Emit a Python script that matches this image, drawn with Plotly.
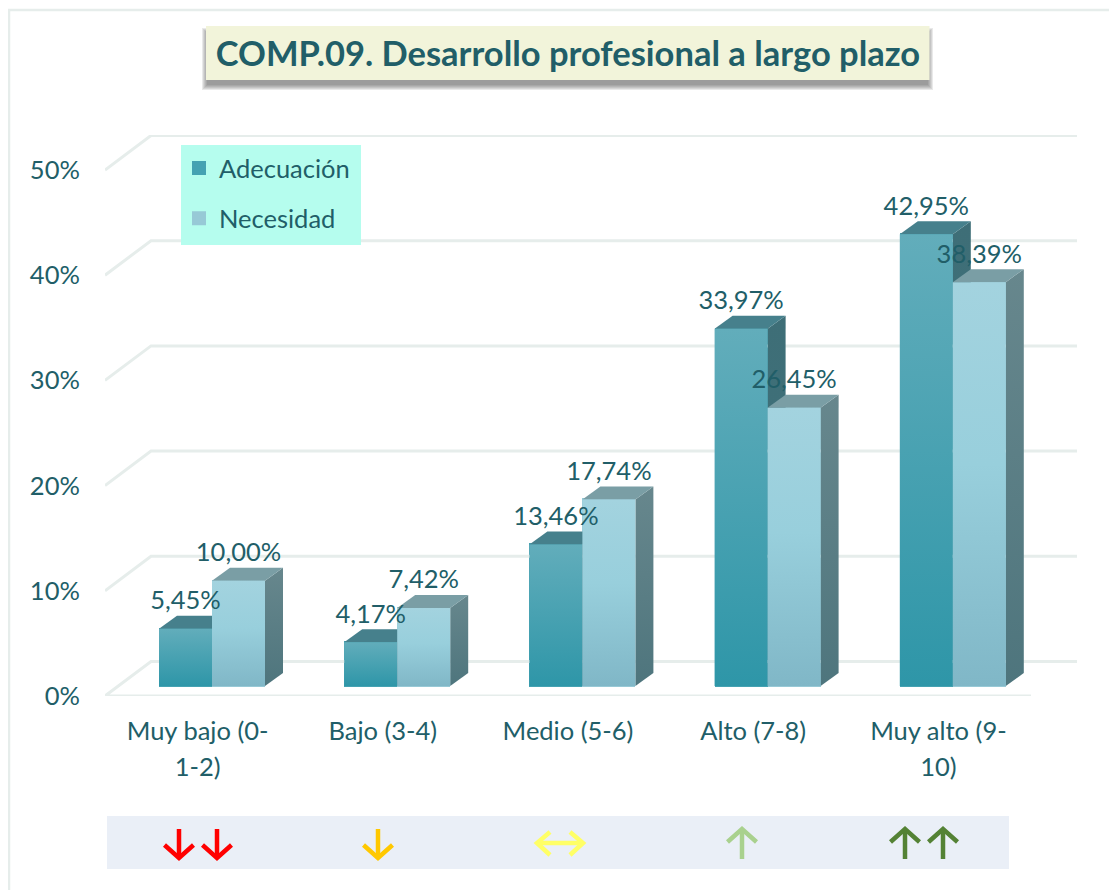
import plotly.graph_objects as go

categories = ["Muy bajo (0-<br>1-2)", "Bajo (3-4)", "Medio (5-6)", "Alto (7-8)", "Muy alto (9-<br>10)"]
adecuacion = [5.45, 4.17, 13.46, 33.97, 42.95]
necesidad = [10.00, 7.42, 17.74, 26.45, 38.39]
y_ticks = [0, 10, 20, 30, 40, 50]
title_text = "COMP.09. Desarrollo profesional a largo plazo"

TEXT = "#215e68"
GRID = "#e6edeb"
FONT = "Lato"
FS = 25.5

# the page adds an 8 px body margin, so page coordinates are reduced by OFF
OFF = 8
W, H = 1117 - OFF, 890 - OFF
L, R, T, B = 105, 1077, 135, 696   # page pixels of the plot area
PX_X = 185.2   # px per category
PX_Y = 10.52   # px per percent
xmin = -0.5
xmax = xmin + (R - L) / PX_X
ymax = (B - T) / PX_Y
DX, DY = 18 / PX_X, 13 / PX_Y
BW = 53 / PX_X
SHIFT = 14.4 / PX_X
BASE = 10 / PX_Y
GDX, GDY = 46 / PX_X, 34.5 / PX_Y
FRONT_END = 4.5


def px(x):
    return (x - L) / (R - L)


def py(y):
    return (B - y) / (B - T)


fig = go.Figure()

series = [
    ("Adecuación", adecuacion, -1, "#45a2b2",
     [[0, "#2e96a8"], [1, "#62adbb"]], "#46808c",
     [[0, "#3f737c"], [1, "#3e6e77"]]),
    ("Necesidad", necesidad, 0, "#97c9d6",
     [[0, "#80b7c7"], [0.55, "#98cfdc"], [1, "#a3d3df"]], "#7a9ea5",
     [[0, "#4e757d"], [1, "#67878d"]]),
]
xs = list(range(len(categories)))
for name, vals, side, mid, *_ in series:
    fig.add_trace(go.Bar(
        x=[i + SHIFT + side * BW + BW / 2 for i in xs], y=vals, base=BASE, width=BW - 2 / PX_X,
        name=name, legendgroup=name, marker=dict(color=mid, line=dict(color=mid, width=2)),
        hoverinfo="skip"))

gx, gy = [], []
for t in y_ticks:
    if t == 0:
        gx += [FRONT_END]
        gy += [t]
    gx += [xmin, xmin + GDX, xmax, None]
    gy += [t, t + GDY, t + GDY, None]
fig.add_trace(go.Scatter(x=gx, y=gy, mode="lines", line=dict(color=GRID, width=3),
                         showlegend=False, hoverinfo="skip"))


def poly(xv, yv, color=None, grad=None):
    kw = dict(fillcolor=color) if color else dict(fillgradient=dict(type="vertical", colorscale=grad))
    fig.add_trace(go.Scatter(x=xv, y=yv, mode="lines", line=dict(width=0), fill="toself",
                             showlegend=False, hoverinfo="skip", **kw))


for i in xs:
    for name, vals, side, mid, front, topc, sidec in series:
        x0 = i + SHIFT + side * BW
        x1 = x0 + BW
        top = BASE + vals[i]
        poly([x1, x1 + DX, x1 + DX, x1, x1], [BASE, BASE + DY, top + DY, top, BASE], grad=sidec)
        poly([x0, x0 + DX, x1 + DX, x1, x0], [top, top + DY, top + DY, top, top], color=topc)
        poly([x0, x1, x1, x0, x0], [BASE, BASE, top, top, BASE], grad=front)

for name, vals, side, *_ in series:
    fig.add_trace(go.Scatter(
        x=[i + SHIFT + side * BW + BW / 2 for i in xs],
        y=[v + BASE + 26 / PX_Y for v in vals],
        text=[f"{v:.2f}".replace(".", ",") + "%" for v in vals],
        mode="text", textposition="middle center", textfont=dict(family=FONT, size=FS, color=TEXT),
        showlegend=False, hoverinfo="skip", cliponaxis=False))

shapes = []


def rect(x0, y0, x1, y1, fill, layer="below"):
    shapes.append(dict(type="rect", xref="paper", yref="paper", x0=px(x0), x1=px(x1), y0=py(y0), y1=py(y1),
                       fillcolor=fill, line=dict(width=0), layer=layer))


def path(points, color, width=4.5):
    d = "M" + "L".join(f"{px(a):.5f},{py(b):.5f}" for a, b in points)
    shapes.append(dict(type="path", xref="paper", yref="paper", path=d, line=dict(color=color, width=width),
                       fillcolor="rgba(0,0,0,0)", layer="above"))


path([(9, 890), (9, 10), (1117, 10)], GRID, 2.5)
for k in range(6, 0, -1):
    rect(208 - k, 34 - k, 927 + k, 84 + k, "rgba(70,70,70,0.12)")
rect(206, 26, 929.5, 80, "#f2f4da")
rect(107, 816, 1009, 869, "#eaeff7")
rect(181, 145, 361, 245, "#b5fdee", layer="above")


def down(cx, c):
    path([(cx, 829), (cx, 858)], c)
    path([(cx - 14.5, 845), (cx, 858), (cx + 14.5, 845)], c)


def up(cx, c):
    path([(cx, 859), (cx, 829)], c)
    path([(cx - 14.5, 842), (cx, 829), (cx + 14.5, 842)], c)


down(179, "#ff0000")
down(217, "#ff0000")
down(378, "#ffc800")
path([(537, 843), (583, 843)], "#ffff66")
path([(550, 832), (537, 843), (550, 855)], "#ffff66")
path([(570, 832), (583, 843), (570, 855)], "#ffff66")
up(742, "#a9d18e")
up(905, "#548235")
up(943, "#548235")


def span(label):
    return "<br>".join(f'<span style="font-size:{FS}px">{p}</span>' for p in label.split("<br>"))


fig.update_layout(
    width=W, height=H, autosize=False,
    paper_bgcolor="white", plot_bgcolor="rgba(0,0,0,0)",
    margin=dict(l=L - OFF, r=W - (R - OFF), t=T - OFF, b=H - (B - OFF), pad=0),
    barmode="overlay", bargap=0,
    title=dict(text=f"<b>{title_text}</b>", x=(568 - OFF) / W, y=1 - (54 - OFF) / H, xanchor="center", yanchor="middle",
               font=dict(family=FONT, size=34.5, color=TEXT)),
    xaxis=dict(range=[xmin, xmax], tickmode="array", tickvals=xs,
               ticktext=[span(l) for l in categories],
               tickfont=dict(family=FONT, size=27.7, color=TEXT), showgrid=False, zeroline=False,
               showline=False, ticks="outside", ticklen=10, tickcolor="rgba(0,0,0,0)", tickangle=0),
    yaxis=dict(range=[0, ymax], tickmode="array", tickvals=y_ticks, ticktext=[f"{t}%" for t in y_ticks],
               tickfont=dict(family=FONT, size=FS, color=TEXT), showgrid=False, zeroline=False,
               showline=False, ticks="outside", ticklen=19, tickcolor="rgba(0,0,0,0)"),
    legend=dict(x=px(179), y=py(145), xanchor="left", yanchor="top", bgcolor="rgba(0,0,0,0)",
                font=dict(family=FONT, size=FS, color=TEXT), tracegroupgap=14, traceorder="grouped",
                entrywidth=157, entrywidthmode="pixels", borderwidth=0),
    shapes=shapes,
)

fig.write_html("out.html")
